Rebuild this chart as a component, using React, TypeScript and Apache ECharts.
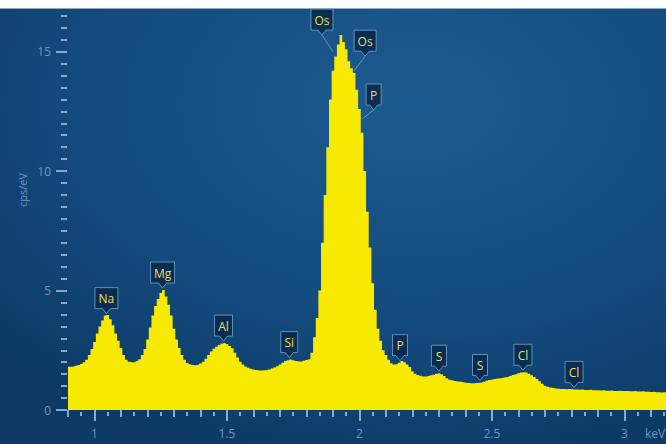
import React, { useEffect, useRef } from "react";
import * as echarts from "echarts";

// Spectrum: counts per eV for 0.01 keV bins starting at 0.90 keV
const startEnergy = 0.9;
const binWidth = 0.01;
const cpsValues: number[] = [
  // 0.90 - 0.99
  1.81, 1.81, 1.82, 1.85, 1.88, 1.93, 2.0, 2.1, 2.3, 2.55,
  // 1.00 - 1.09
  2.85, 3.2, 3.5, 3.75, 3.95, 3.98, 3.8, 3.55, 3.2, 2.9,
  // 1.10 - 1.19
  2.6, 2.3, 2.1, 2.02, 2.0, 2.0, 2.05, 2.12, 2.3, 2.55,
  // 1.20 - 1.29
  2.95, 3.45, 3.95, 4.35, 4.65, 4.9, 5.02, 4.75, 4.4, 3.95,
  // 1.30 - 1.39
  3.4, 2.95, 2.6, 2.3, 2.1, 1.97, 1.92, 1.88, 1.87, 1.89,
  // 1.40 - 1.49
  1.95, 2.02, 2.15, 2.3, 2.45, 2.56, 2.65, 2.72, 2.78, 2.8,
  // 1.50 - 1.59
  2.76, 2.68, 2.58, 2.4, 2.2, 2.02, 1.9, 1.82, 1.77, 1.73,
  // 1.60 - 1.69
  1.7, 1.67, 1.65, 1.65, 1.66, 1.67, 1.7, 1.74, 1.78, 1.83,
  // 1.70 - 1.79
  1.9, 1.98, 2.05, 2.08, 2.11, 2.08, 2.05, 2.03, 2.03, 2.06,
  // 1.80 - 1.89
  2.09, 2.12, 2.4, 3.05, 3.85, 5.0, 7.0, 9.0, 11.0, 13.0,
  // 1.90 - 1.99
  14.2, 14.8, 15.3, 15.7, 15.4, 15.1, 14.6, 14.3, 14.1, 13.4,
  // 2.00 - 2.09
  12.6, 11.6, 10.0, 8.3, 6.8, 5.3, 4.2, 3.4, 2.9, 2.5,
  // 2.10 - 2.19
  2.3, 2.1, 1.96, 1.9, 1.92, 1.98, 2.05, 2.0, 1.9, 1.8,
  // 2.20 - 2.29
  1.62, 1.52, 1.47, 1.43, 1.4, 1.4, 1.42, 1.45, 1.48, 1.52,
  // 2.30 - 2.39
  1.54, 1.5, 1.42, 1.33, 1.27, 1.24, 1.21, 1.19, 1.18, 1.16,
  // 2.40 - 2.49
  1.14, 1.13, 1.12, 1.12, 1.13, 1.14, 1.15, 1.18, 1.22, 1.26,
  // 2.50 - 2.59
  1.28, 1.3, 1.32, 1.33, 1.35, 1.37, 1.39, 1.42, 1.46, 1.5,
  // 2.60 - 2.69
  1.54, 1.57, 1.58, 1.57, 1.52, 1.45, 1.38, 1.3, 1.2, 1.1,
  // 2.70 - 2.79
  1.02, 0.97, 0.94, 0.92, 0.9, 0.89, 0.88, 0.88, 0.87, 0.88,
  // 2.80 - 2.89
  0.87, 0.86, 0.86, 0.85, 0.86, 0.84, 0.84, 0.85, 0.83, 0.83,
  // 2.90 - 2.99
  0.83, 0.82, 0.83, 0.81, 0.81, 0.82, 0.8, 0.8, 0.81, 0.79,
  // 3.00 - 3.09
  0.79, 0.8, 0.78, 0.78, 0.79, 0.77, 0.77, 0.78, 0.76, 0.76,
  // 3.10 - 3.16
  0.75, 0.76, 0.74, 0.74, 0.73, 0.74, 0.72,
];

// Axis ticks
const xMajorTicks = [1, 1.5, 2, 2.5, 3];
const xMidTicks = [0.9, 1.1, 1.2, 1.3, 1.4, 1.6, 1.7, 1.8, 1.9, 2.1, 2.2, 2.3, 2.4, 2.6, 2.7, 2.8, 2.9, 3.1];
const xFineTicks = [0.95, 1.05, 1.15, 1.25, 1.35, 1.45, 1.55, 1.65, 1.75, 1.85, 1.95, 2.05, 2.15, 2.25, 2.35, 2.45, 2.55, 2.65, 2.75, 2.85, 2.95, 3.05, 3.15];
const yMajorTicks = [0, 5, 10, 15];
const yMinorTicks = [
  0.5, 1, 1.5, 2, 2.5, 3, 3.5, 4, 4.5, 5.5, 6, 6.5, 7, 7.5, 8, 8.5, 9, 9.5,
  10.5, 11, 11.5, 12, 12.5, 13, 13.5, 14, 14.5, 15.5, 16, 16.5,
];

// Peak annotations
const labelText = ["Na", "Mg", "Al", "Si", "Os", "Os", "P", "P", "S", "S", "Cl", "Cl"];
const labelEnergy = [1.045, 1.257, 1.487, 1.735, 1.9, 1.98, 2.012, 2.153, 2.3, 2.455, 2.617, 2.81];
// anchor value: null = on top of spectrum
const labelAnchorValue: (number | null)[] = [null, null, null, null, 15.0, 14.2, 12.2, null, null, null, null, null];
// box offset from anchor (px) for labels with a leader line
const labelLeaderOffset: ([number, number] | null)[] = [null, null, null, null, [-11, -32], [11, -30], [11, -24], null, null, null, null, null];

const X_MIN = 0.9;
const X_MAX = 3.157;
const Y_MAX = 16.8;

const tickColor = "#86a9cf";
const labelColor = "#6d97c3";
const calloutFill = "rgba(9,42,76,0.9)";
const calloutStroke = "rgba(130,170,210,0.75)";
const calloutText = "#e8df62";
const FONT = '"Open Sans", "Noto Sans", sans-serif';

export default function App() {
  const ref = useRef<HTMLDivElement>(null);

  useEffect(() => {
    if (!ref.current) return;
    const chart = echarts.init(ref.current, undefined, { renderer: "svg" });

    const energies = cpsValues.map((_, i) => +(startEnergy + i * binWidth).toFixed(2));
    const seriesData = energies.map((e, i) => [e, cpsValues[i]]);

    const xBase = {
      type: "value" as const,
      min: X_MIN,
      max: X_MAX,
      position: "bottom" as const,
      offset: 2,
      axisLine: { show: false },
      splitLine: { show: false },
    };
    const yBase = {
      type: "value" as const,
      min: 0,
      max: Y_MAX,
      position: "left" as const,
      offset: 1,
      axisLine: { show: false },
      splitLine: { show: false },
    };

    chart.setOption({
      animation: false,
      backgroundColor: "#ffffff",
      grid: { left: 68, right: 0, top: 8.6, bottom: 34, containLabel: false },
      xAxis: [
        {
          ...xBase,
          axisTick: { show: true, customValues: xMajorTicks, length: 11, lineStyle: { color: tickColor, width: 2 } },
          axisLabel: {
            customValues: xMajorTicks,
            color: labelColor,
            fontSize: 12,
            fontFamily: FONT,
            margin: 15,
            formatter: (v: number) => String(v),
          },
        },
        {
          ...xBase,
          axisTick: { show: true, customValues: xMidTicks, length: 7, lineStyle: { color: tickColor, width: 2 } },
          axisLabel: { show: false },
        },
        {
          ...xBase,
          axisTick: { show: true, customValues: xFineTicks, length: 4, lineStyle: { color: tickColor, width: 2 } },
          axisLabel: { show: false },
        },
      ],
      yAxis: [
        {
          ...yBase,
          axisTick: { show: true, customValues: yMajorTicks, length: 11, lineStyle: { color: tickColor, width: 2 } },
          axisLabel: {
            customValues: yMajorTicks,
            color: labelColor,
            fontSize: 12,
            fontFamily: FONT,
            margin: 16,
          },
        },
        {
          ...yBase,
          axisTick: { show: true, customValues: yMinorTicks, length: 6, lineStyle: { color: tickColor, width: 2 } },
          axisLabel: { show: false },
        },
      ],
      series: [
        {
          type: "line",
          xAxisIndex: 0,
          yAxisIndex: 0,
          data: seriesData,
          step: "middle",
          symbol: "none",
          lineStyle: { width: 0 },
          areaStyle: { color: "#f7e900", opacity: 1 },
          silent: true,
          z: 3,
        },
      ],
    });

    // Build annotations from data coordinates
    const canvas = document.createElement("canvas");
    const ctx = canvas.getContext("2d");
    if (ctx) ctx.font = `12px ${FONT}`;
    const valueAt = (e: number) => {
      const idx = Math.round((e - startEnergy) / binWidth);
      return cpsValues[Math.max(0, Math.min(cpsValues.length - 1, idx))];
    };

    const elements: any[] = [
      {
        type: "rect",
        z: -10,
        silent: true,
        shape: { x: 0, y: 8, width: 666, height: 436 },
        style: {
          fill: new echarts.graphic.RadialGradient(0.62, 0.22, 0.85, [
            { offset: 0, color: "#1c5b8f" },
            { offset: 0.6, color: "#134a7c" },
            { offset: 1, color: "#0c3965" },
          ]),
        },
      },
      {
        type: "line",
        z: -9,
        silent: true,
        shape: { x1: 0, y1: 8.5, x2: 666, y2: 8.5 },
        style: { stroke: "rgba(170,195,220,0.8)", lineWidth: 1 },
      },
      {
        type: "text",
        x: 22,
        y: 190,
        rotation: Math.PI / 2,
        silent: true,
        style: { text: "cps/eV", fill: labelColor, font: `11px ${FONT}`, textAlign: "center", textVerticalAlign: "middle" },
      },
      {
        type: "text",
        x: 645,
        y: 433,
        silent: true,
        style: { text: "keV", fill: labelColor, font: `12px ${FONT}`, textAlign: "left", textVerticalAlign: "middle" },
      },
    ];

    labelText.forEach((txt, i) => {
      const e = labelEnergy[i];
      const av = labelAnchorValue[i];
      const v = av == null ? valueAt(e) : av;
      const tip = chart.convertToPixel({ xAxisIndex: 0, yAxisIndex: 0 }, [e, v]) as number[];
      const tw = ctx ? ctx.measureText(txt).width : txt.length * 8;
      const w = Math.max(15, Math.round(tw + 7));
      const h = 21;
      const off = labelLeaderOffset[i];
      let cx: number, cy: number;
      if (off) {
        cx = tip[0] + off[0];
        cy = tip[1] + off[1];
      } else {
        cx = tip[0];
        cy = tip[1] - 7 - h / 2;
      }
      const x0 = cx - w / 2;
      const x1 = cx + w / 2;
      const y0 = cy - h / 2;
      const y1 = cy + h / 2;
      const pts = [
        [x0, y0],
        [x1, y0],
        [x1, y1],
        [cx + 4, y1],
        [cx, y1 + 5],
        [cx - 4, y1],
        [x0, y1],
      ];
      if (off) {
        elements.push({
          type: "line",
          z: 20,
          silent: true,
          shape: { x1: cx, y1: y1 + 5, x2: tip[0], y2: tip[1] },
          style: { stroke: calloutStroke, lineWidth: 1 },
        });
      }
      elements.push({
        type: "polygon",
        z: 21,
        silent: true,
        shape: { points: pts },
        style: { fill: calloutFill, stroke: calloutStroke, lineWidth: 1 },
      });
      elements.push({
        type: "text",
        z: 22,
        x: cx,
        y: cy + 0.5,
        silent: true,
        style: { text: txt, fill: calloutText, font: `12px ${FONT}`, textAlign: "center", textVerticalAlign: "middle" },
      });
    });

    chart.setOption({ graphic: { elements } });

    return () => {
      chart.dispose();
    };
  }, []);

  return (
    <div
      ref={ref}
      style={{ position: "fixed", left: 0, top: 0, width: 666, height: 444 }}
    />
  );
}
